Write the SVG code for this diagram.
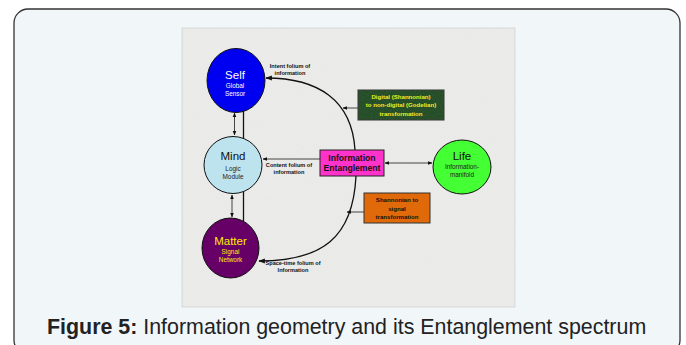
<svg xmlns="http://www.w3.org/2000/svg" width="686" height="345" viewBox="0 0 686 345">
<defs>
<style>
text{font-family:"Liberation Sans",Arial,sans-serif;text-anchor:middle}
.lab{font-size:5.6px;font-weight:bold;fill:#111}
.conn{fill:none;stroke:#111;stroke-width:1.3}
.thin{fill:none;stroke:#333;stroke-width:0.9}
.node{stroke:#111;stroke-width:1}
.title{font-size:11.5px}
.sub{font-size:6.4px}
.box{font-size:8.6px;font-weight:bold;fill:#111}
.btxt{font-size:6.1px;font-weight:bold}
</style>
<marker id="ah" viewBox="0 0 10 10" refX="9" refY="5" markerWidth="5" markerHeight="5" orient="auto-start-reverse">
<path d="M0,1 L10,5 L0,9 z" fill="#111"/>
</marker>
<filter id="grain" x="0" y="0" width="100%" height="100%">
<feTurbulence type="fractalNoise" baseFrequency="0.9" numOctaves="2" seed="3" result="n"/>
<feColorMatrix in="n" type="matrix" values="0 0 0 0 0.6  0 0 0 0 0.6  0 0 0 0 0.6  0 0 0 0.3 -0.05" result="g"/>
<feComposite in="g" in2="SourceGraphic" operator="in"/>
</filter>
</defs>
<rect x="14" y="9" width="666" height="345" rx="14" fill="#f1f6f9" stroke="#333" stroke-width="1.3"/>
<rect x="182" y="28" width="333" height="279" fill="#ececea" stroke="#c8c8c8" stroke-width="0.6"/>
<rect x="182" y="28" width="333" height="279" fill="#ffffff" filter="url(#grain)" opacity="0.45"/>

<g id="connectors">
<path class="conn" d="M355,150 C352,100 318,78 266,78" marker-end="url(#ah)"/>
<path class="conn" d="M356,176 C353,238 322,261 259,261" marker-end="url(#ah)"/>
<line class="thin" x1="358" y1="108" x2="343" y2="108" marker-end="url(#ah)"/>
<line class="thin" x1="364" y1="212" x2="347" y2="212" marker-end="url(#ah)"/>
<line class="thin" x1="320" y1="159" x2="263" y2="159" marker-end="url(#ah)"/>
<line class="thin" x1="385" y1="163" x2="432" y2="163" marker-start="url(#ah)" marker-end="url(#ah)"/>
<line class="thin" x1="234.5" y1="113" x2="234.5" y2="135" marker-start="url(#ah)" marker-end="url(#ah)"/>
<line class="conn" x1="243.5" y1="110" x2="243.5" y2="138"/>
<line class="thin" x1="232" y1="195" x2="232" y2="217" marker-start="url(#ah)" marker-end="url(#ah)"/>
<line class="conn" x1="243.5" y1="192" x2="243.5" y2="222"/>
<text class="lab" x="290" y="67.5">Intent folium of</text>
<text class="lab" x="290" y="74.5">information</text>
<text class="lab" x="289" y="166.5">Content folium of</text>
<text class="lab" x="289" y="173.5">information</text>
<text class="lab" x="293" y="264.5">Space-time folium of</text>
<text class="lab" x="293" y="271.5">Information</text>
</g>

<g id="self">
<ellipse class="node" cx="236" cy="80.5" rx="29" ry="32" fill="#0000f0"/>
<text class="title" x="235" y="78.5" fill="#fff">Self</text>
<text class="sub" x="235" y="87.5" fill="#fff">Global</text>
<text class="sub" x="235" y="95.5" fill="#fff">Sensor</text>
</g>

<g id="mind">
<ellipse class="node" cx="233" cy="165" rx="29" ry="28.5" fill="#bde3ef"/>
<text class="title" x="233" y="160" fill="#111">Mind</text>
<text class="sub" x="233" y="171" fill="#222">Logic</text>
<text class="sub" x="233" y="178.5" fill="#222">Module</text>
</g>

<g id="matter">
<ellipse class="node" cx="230.5" cy="248" rx="28.5" ry="30" fill="#660066"/>
<text class="title" x="230.5" y="245" fill="#ffee00">Matter</text>
<text class="sub" x="230.5" y="254" fill="#ffee00">Signal</text>
<text class="sub" x="230.5" y="261.5" fill="#ffee00">Network</text>
</g>

<g id="life">
<ellipse class="node" cx="462" cy="167" rx="29" ry="27" fill="#44ff33"/>
<text class="title" x="462" y="160" fill="#111">Life</text>
<text class="sub" x="462" y="169" fill="#222">Information-</text>
<text class="sub" x="462" y="176.5" fill="#222">manifold</text>
</g>

<g id="entanglement">
<rect x="320" y="150" width="64" height="26" fill="#ff33cc" stroke="#222" stroke-width="1"/>
<text class="box" x="352" y="160.5">Information</text>
<text class="box" x="352" y="171">Entanglement</text>
</g>

<g id="digital">
<rect x="358" y="90" width="86" height="30" fill="#1f4a22" stroke="#333" stroke-width="1"/>
<rect x="358" y="90" width="86" height="30" fill="#2e6a30" filter="url(#grain)" opacity="0.5"/>
<text class="btxt" x="401" y="98.5" fill="#eeee22">Digital (Shannonian)</text>
<text class="btxt" x="401" y="107" fill="#eeee22">to non-digital (Godelian)</text>
<text class="btxt" x="401" y="115.5" fill="#eeee22">transformation</text>
</g>

<g id="shannonian">
<rect x="364" y="193" width="66" height="30" fill="#e06a0a" stroke="#333" stroke-width="1"/>
<text class="btxt" x="397" y="202" fill="#111">Shannonian to</text>
<text class="btxt" x="397" y="210.5" fill="#111">signal</text>
<text class="btxt" x="397" y="218.5" fill="#111">transformation</text>
</g>

<text x="47" y="334" style="text-anchor:start;font-size:21.4px;fill:#222;font-family:'Liberation Sans',Arial,sans-serif"><tspan font-weight="bold">Figure 5:</tspan> Information geometry and its Entanglement spectrum</text>
</svg>
